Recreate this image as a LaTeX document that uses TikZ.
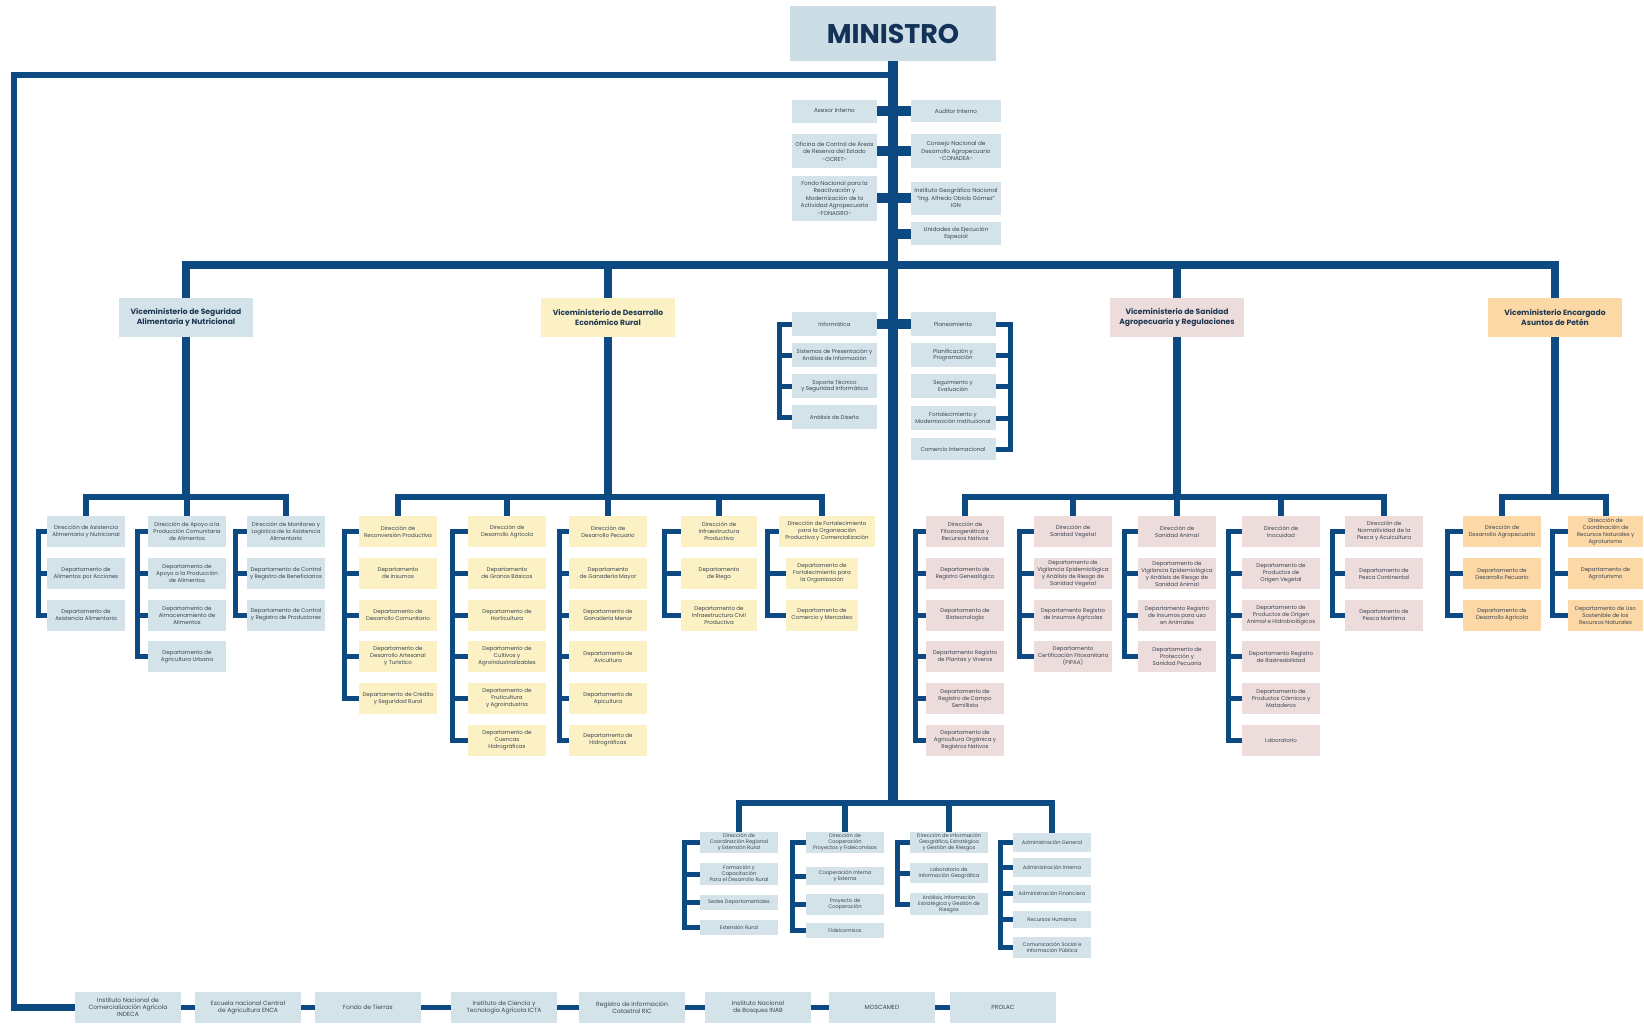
\documentclass[tikz,border=0pt]{standalone}
\usepackage{fontspec}
\setmainfont{Poppins}
\usetikzlibrary{backgrounds}
\definecolor{ln}{RGB}{14,74,130}
\definecolor{cblue}{RGB}{212,227,234}
\definecolor{cyel}{RGB}{252,241,196}
\definecolor{cpink}{RGB}{237,220,220}
\definecolor{corg}{RGB}{252,216,166}
\definecolor{cmin}{RGB}{205,221,230}
\definecolor{txt}{RGB}{58,68,80}
\definecolor{vmtxt}{RGB}{30,55,80}
\definecolor{mintxt}{RGB}{18,50,88}
\newcommand\mybrk[4]{%
  \coordinate (kk) at (#1,0);
  \draw[br] (#2.west) -- (#2.west -| kk) -- (#3.west -| kk) -- (#3.west);
  \foreach \n in {#4} {\draw[br] (\n.west) -- (\n.west -| kk);}
}
\begin{document}
\begin{tikzpicture}[x=1pt,y=-1pt,
  bx/.style={inner sep=0pt,outer sep=0pt,align=center,text=txt,font=\fontsize{5.5}{7}\selectfont,minimum width=78pt,minimum height=31pt},
  bb/.style={bx,fill=cblue}, by/.style={bx,fill=cyel}, bpk/.style={bx,fill=cpink}, bor/.style={bx,fill=corg},
  adv/.style={bb,font=\fontsize{5.7}{7.5}\selectfont},
  cs/.style={bb,font=\fontsize{5.5}{6.8}\selectfont,minimum width=85pt,minimum height=24pt},
  sm/.style={bb,font=\fontsize{5.1}{6}\selectfont},
  eb/.style={bb,font=\fontsize{6}{7.2}\selectfont,minimum width=106pt},
  vm/.style={inner sep=0pt,align=center,text=vmtxt,font=\fontsize{7.6}{10.5}\selectfont\bfseries,minimum width=134pt,minimum height=39pt},
  trunk/.style={ln,line width=10pt},
  bar/.style={ln,line width=10pt},
  lft/.style={ln,line width=6.5pt,line join=miter},
  mbus/.style={ln,line width=8pt,line cap=rect},
  mdrop/.style={ln,line width=8pt},
  sbus/.style={ln,line width=6pt,line cap=rect},
  sdrop/.style={ln,line width=6pt},
  bline/.style={ln,line width=5pt},
  br/.style={ln,line width=5pt,line cap=rect,line join=miter}]
\useasboundingbox (0,0) rectangle (1644,1025);
\def\rA{531.5}\def\rB{573.5}\def\rC{615}\def\rD{656.5}\def\rE{698.5}\def\rF{740}

% ministro
\node[fill=cmin,minimum width=206pt,minimum height=55pt,inner sep=0pt,text=mintxt,font=\fontsize{27}{27}\selectfont\bfseries] (MIN) at (893,33.5) {MINISTRO};

% advisory
\node[adv,minimum width=85pt,minimum height=23pt] (A1) at (834.5,111) {Asesor Interno};
\node[adv,minimum width=85pt,minimum height=34pt] (A2) at (834.5,151) {Oficina de Control de Áreas\\de Reserva del Estado\\-OCRET-};
\node[adv,minimum width=85pt,minimum height=45pt] (A3) at (834.5,198) {Fondo Nacional para la\\Reactivación y\\Modernización de la\\Actividad Agropecuaria\\-FONAGRO-};
\node[adv,minimum width=90pt,minimum height=22pt] (B1) at (956,111) {Auditor Interno};
\node[adv,minimum width=90pt,minimum height=34pt] (B2) at (956,151) {Consejo Nacional de\\Desarrollo Agropecuario\\-CONADEA-};
\node[adv,minimum width=90pt,minimum height=33pt] (B3) at (956,198) {Instituto Geográfico Nacional\\“Ing. Alfredo Obiols Gómez”\\IGN};
\node[adv,minimum width=90pt,minimum height=23pt] (B4) at (956,233.5) {Unidades de Ejecución\\Especial};

% vice ministries
\node[vm,fill=cblue] (VM1) at (186,317.5) {Viceministerio de Seguridad\\Alimentaria y Nutricional};
\node[vm,fill=cyel] (VM2) at (608,317.5) {Viceministerio de Desarrollo\\Económico Rural};
\node[vm,fill=cpink] (VM3) at (1177,317.5) {Viceministerio de Sanidad\\Agropecuaria y Regulaciones};
\node[vm,fill=corg] (VM4) at (1555,317.5) {Viceministerio Encargado\\Asuntos de Petén};

% center section
\node[cs] (I1) at (834.5,324) {Informática};
\node[cs] (I2) at (834.5,355) {Sistemas de Presentación y\\Análisis de Información};
\node[cs] (I3) at (834.5,386) {Soporte Técnico\\y Seguridad Informática};
\node[cs] (I4) at (834.5,417) {Análisis de Diseño};
\node[cs] (G1) at (953,324) {Planeamiento};
\node[cs] (G2) at (953,355) {Planificación y\\Programación};
\node[cs] (G3) at (953,386) {Seguimiento y\\Evaluación};
\node[cs] (G4) at (953,418) {Fortalecimiento y\\Modernización Institucional};
\node[cs,minimum height=22pt] (G5) at (953,449) {Comercio Internacional};

% VM1 columns
\node[bb] (S11) at (86,\rA) {Dirección de Asistencia\\Alimentaria y Nutricional};
\node[bb] (S12) at (86,\rB) {Departamento de\\Alimentos por Acciones};
\node[bb] (S13) at (86,\rC) {Departamento de\\Asistencia Alimentaria};
\node[bb] (S21) at (187,\rA) {Dirección de Apoyo a la\\Producción Comunitaria\\de Alimentos};
\node[bb] (S22) at (187,\rB) {Departamento de\\Apoyo a la Producción\\de Alimentos};
\node[bb] (S23) at (187,\rC) {Departamento de\\Almacenamiento de\\Alimentos};
\node[bb] (S24) at (187,\rD) {Departamento de\\Agricultura Urbana};
\node[bb] (S31) at (286,\rA) {Dirección de Monitoreo y\\Logística de la Asistencia\\Alimentaria};
\node[bb] (S32) at (286,\rB) {Departamento de Control\\y Registro de Beneficiarios};
\node[bb] (S33) at (286,\rC) {Departamento de Control\\y Registro de Productores};

% VM2 columns
\node[by] (D11) at (398,\rA) {Dirección de\\Reconversión Productiva};
\node[by] (D12) at (398,\rB) {Departamento\\de Insumos};
\node[by] (D13) at (398,\rC) {Departamento de\\Desarrollo Comunitario};
\node[by] (D14) at (398,\rD) {Departamento de\\Desarrollo Artesanal\\y Turístico};
\node[by] (D15) at (398,\rE) {Departamento de Crédito\\y Seguridad Rural};
\node[by] (D21) at (507,\rA) {Dirección de\\Desarrollo Agrícola};
\node[by] (D22) at (507,\rB) {Departamento\\de Granos Básicos};
\node[by] (D23) at (507,\rC) {Departamento de\\Horticultura};
\node[by] (D24) at (507,\rD) {Departamento de\\Cultivos y\\Agroindustrializables};
\node[by] (D25) at (507,\rE) {Departamento de\\Fruticultura\\y Agroindustria};
\node[by] (D26) at (507,\rF) {Departamento de\\Cuencas\\Hidrográficas};
\node[by] (D31) at (608,\rA) {Dirección de\\Desarrollo Pecuario};
\node[by] (D32) at (608,\rB) {Departamento\\de Ganadería Mayor};
\node[by] (D33) at (608,\rC) {Departamento de\\Ganadería Menor};
\node[by] (D34) at (608,\rD) {Departamento de\\Avicultura};
\node[by] (D35) at (608,\rE) {Departamento de\\Apicultura};
\node[by] (D36) at (608,\rF) {Departamento de\\Hidrográficas};
\node[by,minimum width=76pt] (D41) at (719,\rA) {Dirección de\\Infraestructura\\Productiva};
\node[by,minimum width=76pt] (D42) at (719,\rB) {Departamento\\de Riego};
\node[by,minimum width=76pt] (D43) at (719,\rC) {Departamento de\\Infraestructura Civil\\Productiva};
\node[by,minimum width=96pt] (D51) at (827,\rA) {Dirección de Fortalecimiento\\para la Organización\\Productiva y Comercialización};
\node[by,minimum width=72pt] (D52) at (822,\rB) {Departamento de\\Fortalecimiento para\\la Organización};
\node[by,minimum width=72pt] (D53) at (822,\rC) {Departamento de\\Comercio y Mercadeo};

% VM3 columns
\node[bpk] (H11) at (965,\rA) {Dirección de\\Fitozoogenética y\\Recursos Nativos};
\node[bpk] (H12) at (965,\rB) {Departamento de\\Registro Genealógico};
\node[bpk] (H13) at (965,\rC) {Departamento de\\Biotecnología};
\node[bpk] (H14) at (965,\rD) {Departamento Registro\\de Plantas y Viveros};
\node[bpk] (H15) at (965,\rE) {Departamento de\\Registro de Campo\\Semillista};
\node[bpk] (H16) at (965,\rF) {Departamento de\\Agricultura Orgánica y\\Registros Nativos};
\node[bpk] (H21) at (1073,\rA) {Dirección de\\Sanidad Vegetal};
\node[bpk] (H22) at (1073,\rB) {Departamento de\\Vigilancia Epidemiológica\\y Análisis de Riesgo de\\Sanidad Vegetal};
\node[bpk] (H23) at (1073,\rC) {Departamento Registro\\de Insumos Agrícolas};
\node[bpk] (H24) at (1073,\rD) {Departamento\\Certificación Fitosanitaria\\(PIPAA)};
\node[bpk] (H31) at (1177,\rA) {Dirección de\\Sanidad Animal};
\node[bpk] (H32) at (1177,\rB) {Departamento de\\Vigilancia Epidemiológica\\y Análisis de Riesgo de\\Sanidad Animal};
\node[bpk] (H33) at (1177,\rC) {Departamento Registro\\de Insumos para uso\\en Animales};
\node[bpk] (H34) at (1177,\rD) {Departamento de\\Protección y\\Sanidad Pecuaria};
\node[bpk] (H41) at (1281,\rA) {Dirección de\\Inocuidad};
\node[bpk] (H42) at (1281,\rB) {Departamento de\\Productos de\\Origen Vegetal};
\node[bpk] (H43) at (1281,\rC) {Departamento de\\Productos de Origen\\Animal e Hidrobiológicos};
\node[bpk] (H44) at (1281,\rD) {Departamento Registro\\de Rastreabilidad};
\node[bpk] (H45) at (1281,\rE) {Departamento de\\Productos Cárnicos y\\Mataderos};
\node[bpk] (H46) at (1281,\rF) {Laboratorio};
\node[bpk] (H51) at (1384,\rA) {Dirección de\\Normatividad de la\\Pesca y Acuicultura};
\node[bpk] (H52) at (1384,\rB) {Departamento de\\Pesca Continental};
\node[bpk] (H53) at (1384,\rC) {Departamento de\\Pesca Marítima};

% VM4 columns
\node[bor] (P11) at (1502,\rA) {Dirección de\\Desarrollo Agropecuario};
\node[bor] (P12) at (1502,\rB) {Departamento de\\Desarrollo Pecuario};
\node[bor] (P13) at (1502,\rC) {Departamento de\\Desarrollo Agrícola};
\node[bor,minimum width=75pt] (P21) at (1605.5,\rA) {Dirección de\\Coordinación de\\Recursos Naturales y\\Agroturismo};
\node[bor,minimum width=75pt] (P22) at (1605.5,\rB) {Departamento de\\Agroturismo};
\node[bor,minimum width=75pt] (P23) at (1605.5,\rC) {Departamento de Uso\\Sostenible de los\\Recursos Naturales};

% bottom center
\node[sm,minimum height=21pt] (C11) at (739,842.5) {Dirección de\\Coordinación Regional\\y Extensión Rural};
\node[sm,minimum height=22pt] (C12) at (739,874) {Formación y\\Capacitación\\Para el Desarrollo Rural};
\node[sm,minimum height=15pt] (C13) at (739,902.5) {Sedes Departamentales};
\node[sm,minimum height=15pt] (C14) at (739,927.5) {Extensión Rural};
\node[sm,minimum height=21pt] (C21) at (845,842.5) {Dirección de\\Cooperación\\Proyectos y Fideicomisos};
\node[sm,minimum height=18pt] (C22) at (845,876) {Cooperación Interna\\y Externa};
\node[sm,minimum height=21pt] (C23) at (845,904.5) {Proyecto de\\Cooperación};
\node[sm,minimum height=15pt] (C24) at (845,930.5) {Fideicomisos};
\node[sm,minimum height=21pt] (C31) at (949,842.5) {Dirección de Información\\Geográfica, Estratégica\\y Gestión de Riesgos};
\node[sm,minimum height=20pt] (C32) at (949,873) {Laboratorio de\\Información Geográfica};
\node[sm,minimum height=22pt] (C33) at (949,904) {Análisis, Información\\Estratégica y Gestión de\\Riesgos};
\node[sm,minimum height=19pt] (C41) at (1052,842.5) {Administración General};
\node[sm,minimum height=19pt] (C42) at (1052,867.5) {Administración Interna};
\node[sm,minimum height=18pt] (C43) at (1052,893.5) {Administración Financiera};
\node[sm,minimum height=17pt] (C44) at (1052,919.5) {Recursos Humanos};
\node[sm,minimum height=21pt] (C45) at (1052,947.5) {Comunicación Social e\\Información Pública};

% bottom row
\node[eb] (E1) at (128,1007.5) {Instituto Nacional de\\Comercialización Agrícola\\INDECA};
\node[eb] (E2) at (248,1007.5) {Escuela nacional Central\\de Agricultura ENCA};
\node[eb] (E3) at (368,1007.5) {Fondo de Tierras};
\node[eb] (E4) at (504,1007.5) {Instituto de Ciencia y\\Tecnología Agrícola ICTA};
\node[eb] (E5) at (632,1007.5) {Registro de Información\\Catastral RIC};
\node[eb] (E6) at (758,1007.5) {Instituto Nacional\\de Bosques INAB};
\node[eb] (E7) at (882,1007.5) {MOSCAMED};
\node[eb] (E8) at (1003,1007.5) {PROLAC};

\begin{pgfonlayer}{background}
\fill[white] (0,0) rectangle (1644,1025);
\coordinate (tl) at (14,75);
\coordinate (mb) at (0,265);
\coordinate (sb) at (0,497);
\coordinate (cb) at (0,803);
% trunk and left frame
\draw[trunk] (MIN.south) -- (MIN.south |- cb);
\draw[lft] (MIN.south |- tl) -- (tl) -- (tl |- E1.west) -- (E1.west);
\foreach \a/\b in {E1/E2,E2/E3,E3/E4,E4/E5,E5/E6,E6/E7,E7/E8} {\draw[bline] (\a.east) -- (\b.west);}
% advisory bars
\draw[bar] (A1.east) -- (B1.west);
\draw[bar] (A2.east) -- (B2.west);
\draw[bar] (A3.east) -- (B3.west);
\draw[bar] (B4.west) -- (B4.west -| MIN.south);
\draw[bar] (I1.east) -- (G1.west);
% main bus
\draw[mbus] (VM1.north |- mb) -- (VM4.north |- mb);
\foreach \v in {VM1,VM2,VM3,VM4} {
  \draw[mdrop] (\v.north |- mb) -- (\v.north);
  \draw[mdrop] (\v.south) -- (\v.south |- sb);
}
% sub buses
\draw[sbus] (S11.north |- sb) -- (S31.north |- sb);
\draw[sbus] (D11.north |- sb) -- (D52.north |- sb);
\draw[sbus] (H11.north |- sb) -- (H51.north |- sb);
\draw[sbus] (P11.north |- sb) -- (P21.north |- sb);
\foreach \h in {S11,S21,S31,D11,D21,D31,D41,H11,H21,H31,H41,H51,P11,P21} {\draw[sdrop] (\h.north |- sb) -- (\h.north);}
\draw[sdrop] (D52.north |- sb) -- (D52.north |- D51.north);
% bottom center bus
\draw[sbus] (C11.north |- cb) -- (C41.north |- cb);
\foreach \h in {C11,C21,C31,C41} {\draw[sdrop] (\h.north |- cb) -- (\h.north);}
% brackets
\mybrk{38}{S11}{S13}{S12}
\mybrk{137}{S21}{S24}{S22,S23}
\mybrk{235}{S31}{S33}{S32}
\mybrk{344}{D11}{D15}{D12,D13,D14}
\mybrk{452}{D21}{D26}{D22,D23,D24,D25}
\mybrk{559}{D31}{D36}{D32,D33,D34,D35}
\mybrk{664}{D41}{D43}{D42}
\mybrk{767}{D51}{D53}{D52}
\mybrk{915}{H11}{H16}{H12,H13,H14,H15}
\mybrk{1019}{H21}{H24}{H22,H23}
\mybrk{1124}{H31}{H34}{H32,H33}
\mybrk{1228}{H41}{H46}{H42,H43,H44,H45}
\mybrk{1332}{H51}{H53}{H52}
\mybrk{1447}{P11}{P13}{P12}
\mybrk{1552}{P21}{P23}{P22}
\mybrk{779}{I1}{I4}{I2,I3}
\mybrk{684}{C11}{C14}{C12,C13}
\mybrk{792}{C21}{C24}{C22,C23}
\mybrk{897}{C31}{C33}{C32}
\mybrk{1000}{C41}{C45}{C42,C43,C44}
% right bracket planeamiento
\coordinate (kr) at (1010,0);
\draw[br] (G1.east) -- (G1.east -| kr) -- (G5.east -| kr) -- (G5.east);
\foreach \n in {G2,G3,G4} {\draw[br] (\n.east) -- (\n.east -| kr);}
\end{pgfonlayer}
\end{tikzpicture}
\end{document}
